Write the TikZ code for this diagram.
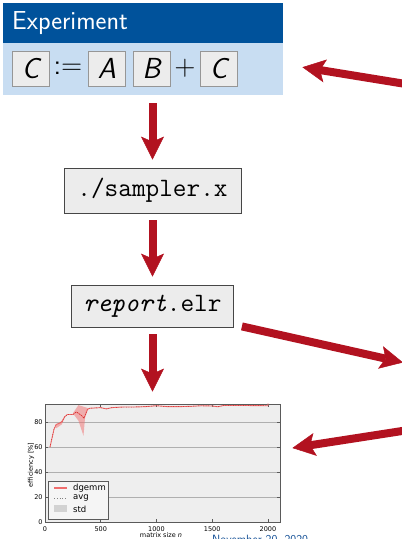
\documentclass[tikz,border=0pt]{standalone}
\usepackage{fontspec}
\newfontfamily\dejavu{DejaVu Sans}
\usetikzlibrary{arrows.meta,calc}
\definecolor{arrred}{RGB}{178,18,32}
\definecolor{hdrblue}{RGB}{0,82,155}
\definecolor{bodyblue}{RGB}{200,221,242}
\definecolor{boxfill}{RGB}{236,236,236}
\definecolor{boxdraw}{RGB}{150,150,150}
\definecolor{cmddraw}{RGB}{70,70,70}
\definecolor{axfill}{RGB}{238,238,238}
\definecolor{axdraw}{RGB}{90,90,90}
\definecolor{gridc}{RGB}{175,175,175}
\definecolor{curvec}{RGB}{240,110,110}
\definecolor{footblue}{RGB}{20,80,150}
\begin{document}
\begin{tikzpicture}[x=1pt,y=-1pt,
  bigarrow/.style={draw=arrred, line width=8pt,
    -{Stealth[length=23pt,width=23pt,inset=5pt,line width=0.5pt]}},
  fbox/.style={draw=boxdraw, fill=boxfill, line width=0.8pt, minimum width=37pt,
    minimum height=35pt, inner sep=0pt, font=\fontsize{29}{32}\selectfont\sffamily\itshape},
  fop/.style={inner sep=0pt, font=\fontsize{29}{32}\selectfont\sffamily},
  cmdbox/.style={draw=cmddraw, fill=boxfill, line width=0.8pt, inner sep=0pt,
    font=\fontsize{26.5}{30}\selectfont\ttfamily},
  ticklab/.style={inner sep=0pt, font=\dejavu\fontsize{6.5}{7}\selectfont},
  leglab/.style={inner sep=0pt, anchor=west, font=\dejavu\fontsize{8.5}{9}\selectfont},
  tickl/.style={draw=axdraw, line width=0.6pt},
  gridl/.style={draw=gridc, line width=1pt}]
\useasboundingbox (0,0) rectangle (402,539);
% Experiment block
\node[fill=hdrblue, minimum width=280pt, minimum height=40pt, anchor=north west, inner sep=0pt] (exphead) at (3,3) {};
\node[fill=bodyblue, minimum width=280pt, minimum height=52pt, anchor=north west, inner sep=0pt] (expbody) at (3,43) {};
\node[anchor=west, text=white, inner sep=0pt, font=\fontsize{26}{30}\selectfont\sffamily] (exptitle) at (12,23) {Experiment};
\node[fbox] (fc1) at (30.5,68.5) {C};
\node[fop] (fassign) at (68,68) {:=};
\node[fbox] (fa) at (107,68.5) {A};
\node[fbox] (fb) at (151.5,68.5) {B};
\node[fop] (fplus) at (185,68) {+};
\node[fbox] (fc2) at (218.5,68.5) {C};
% command boxes
\node[cmdbox, minimum width=177pt, minimum height=45pt] (sampler) at (152.5,190.5) {./sampler.x};
\node[cmdbox, minimum width=162pt, minimum height=42pt] (report) at (152.5,306) {{\itshape report}.elr};
% plot axes
\node[draw=axdraw, fill=axfill, line width=0.8pt, minimum width=235pt, minimum height=118pt, inner sep=0pt] (plot) at (162.5,463) {};
\begin{scope}[shift={(45,522)}]
\begin{scope}[xscale=0.1115,yscale=-1.25]
  \foreach \v in {20,40,60,80} {\draw[gridl] (0,\v) -- (2108,\v);}
  \foreach \v in {0,20,40,60,80} {
    \draw[tickl] (0,\v) -- (27,\v);
    \draw[tickl] (2108,\v) -- (2081,\v);
    \node[ticklab, anchor=east] at (-20,\v) {\v};
  }
  \foreach \n in {0,500,1000,1500,2000} {
    \draw[tickl] (\n,0) -- (\n,2.4);
    \draw[tickl] (\n,94.4) -- (\n,92);
    \node[ticklab, anchor=north] at (\n,-3.2) {\n};
  }
  % std band
  \fill[curvec, opacity=0.5] (250,87) -- (300,93.5) -- (390,91) -- (360,84) -- (345,69) -- (300,81) -- cycle;
  \fill[curvec, opacity=0.5] (95,77) -- (150,81) -- (180,84) -- (150,78) -- (100,75) -- cycle;
  % curve
  \draw[curvec, line width=0.9pt, line join=round]
    (45,60) -- (60,66) -- (80,74) -- (100,78) -- (130,79) -- (150,80) -- (175,84) -- (200,86)
    -- (250,86) -- (280,88) -- (300,87) -- (330,85) -- (350,83) -- (380,90) -- (400,91)
    -- (500,91.5) -- (550,90.5) -- (600,91.5) -- (700,92) -- (800,92) -- (900,92.3)
    -- (1000,93) -- (1100,92.3) -- (1200,92.3) -- (1300,92.5) -- (1400,93) -- (1500,92.8)
    -- (1550,92.2) -- (1600,93.2) -- (1800,93.2) -- (2000,93) -- (2000,95);
  \draw[red!70!black, line width=0.5pt, dotted]
    (45,60) -- (60,66) -- (80,74) -- (100,78) -- (130,79) -- (150,80) -- (175,84) -- (200,86)
    -- (250,86) -- (280,88) -- (300,87) -- (330,85) -- (350,83) -- (380,90) -- (400,91)
    -- (500,91.5) -- (550,90.5) -- (600,91.5) -- (700,92) -- (800,92) -- (900,92.3)
    -- (1000,93) -- (1100,92.3) -- (1200,92.3) -- (1300,92.5) -- (1400,93) -- (1500,92.8)
    -- (1550,92.2) -- (1600,93.2) -- (1800,93.2) -- (2000,93);
\end{scope}
\end{scope}
% legend
\node[draw=axdraw, fill=axfill!60!white, line width=0.8pt, minimum width=60pt, minimum height=38pt, inner sep=0pt] (legend) at (78,500) {};
\draw[curvec, line width=1.2pt] (54,488) -- (67,488);
\draw[gray, line width=0.8pt, dotted] (54,498.5) -- (67,498.5);
\fill[gray!35] (54,505) rectangle (67,512);
\node[leglab] (lg1) at (73,488) {dgemm};
\node[leglab] (lg2) at (73,498) {avg};
\node[leglab] (lg3) at (73,509) {std};
% axis labels
\node[ticklab, rotate=90] (ylab) at (31,465) {efficiency [\%]};
\node[ticklab] (xlab) at (161,535.5) {matrix size {\itshape n}};
% footer (cut off)
\node[anchor=base west, inner sep=0pt, text=footblue, font=\fontsize{12}{14}\selectfont\sffamily] (footer) at (212,543) {November 20, 2020};
% arrows
\coordinate (a1s) at ($(expbody.south -| sampler.north)+(0,8)$);
\coordinate (a1e) at ($(sampler.north)+(0,-8)$);
\coordinate (a2s) at ($(sampler.south)+(0,7)$);
\coordinate (a2e) at ($(report.north)+(0,-8)$);
\coordinate (a3s) at ($(report.south)+(0,7)$);
\coordinate (a3e) at ($(plot.north -| report.south)+(0,-12)$);
\draw[bigarrow] (a1s) -- (a1e);
\draw[bigarrow] (a2s) -- (a2e);
\draw[bigarrow] (a3s) -- (a3e);
\coordinate (rtail) at ($(report.south east)+(8,-1)$);
\coordinate (rtip) at (403,362.5);
\draw[bigarrow] (rtail) -- (rtip);
\coordinate (etail) at (415,85.5);
\coordinate (etip) at ($(expbody.east)+(19,-2)$);
\draw[bigarrow] (etail) -- (etip);
\coordinate (ptail) at (415,429);
\coordinate (ptip) at ($(plot.east)+(12,-15)$);
\draw[bigarrow] (ptail) -- (ptip);
\end{tikzpicture}
\end{document}
